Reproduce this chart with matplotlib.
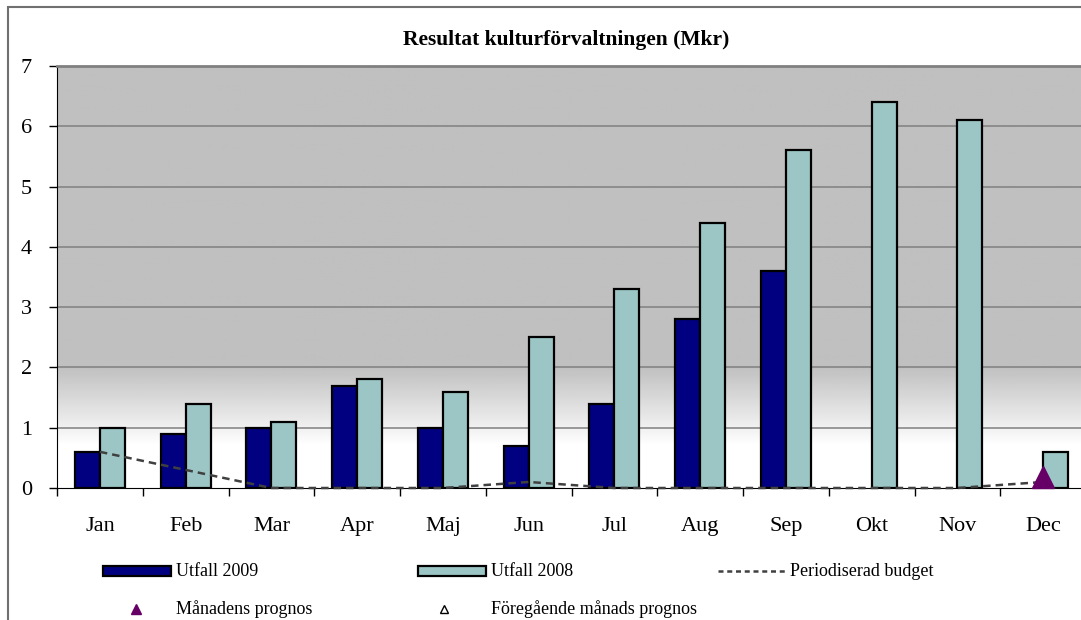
import numpy as np
import matplotlib
matplotlib.use("Agg")
import matplotlib.pyplot as plt
from matplotlib.patches import Rectangle
from matplotlib.lines import Line2D

months = ["Jan", "Feb", "Mar", "Apr", "Maj", "Jun", "Jul", "Aug", "Sep", "Okt", "Nov", "Dec"]
utfall_2009 = [0.6, 0.9, 1.0, 1.7, 1.0, 0.7, 1.4, 2.8, 3.6, np.nan, np.nan, np.nan]
utfall_2008 = [1.0, 1.4, 1.1, 1.8, 1.6, 2.5, 3.3, 4.4, 5.6, 6.4, 6.1, 0.6]
budget = [0.6, 0.3, 0.0, 0.0, 0.0, 0.1, 0.0, 0.0, 0.0, 0.0, 0.0, 0.1]
prognos_month = ["Dec"]
prognos_value = [0.18]
yticks = [0, 1, 2, 3, 4, 5, 6, 7]

W, H = 1081, 620
fig = plt.figure(figsize=(W / 100, H / 100), dpi=100)
plt.rcParams['font.family'] = ['Liberation Serif', 'DejaVu Serif']

# outer chart border (left/top visible)
fig.patches.append(Rectangle((8 / W, -0.1), 1.2, (1 - 7 / H) + 0.1, transform=fig.transFigure,
                             fill=False, edgecolor="#707070", linewidth=1.5))

left, right, top, bottom = 57, 1086, 66, 488
ax = fig.add_axes([left / W, 1 - bottom / H, (right - left) / W, (bottom - top) / H])

x = np.arange(len(months))
ax.set_xlim(-0.5, 11.5)
ax.set_ylim(0, 7)

# background gradient: gray above 2, fading to white toward ~0.7
yy = np.linspace(0, 7, 400)
g = np.clip((yy - 0.7) / (2.0 - 0.7), 0, 1)
shade = 1.0 - g * (1.0 - 0.753)
img = np.repeat(shade[:, None], 2, axis=1)
ax.imshow(img, extent=[-0.5, 11.5, 0, 7], origin="lower", cmap="gray", vmin=0, vmax=1,
          aspect="auto", zorder=0)

for t in yticks[1:]:
    ax.axhline(t, color="#808080", linewidth=1.1, zorder=1)

bw = 0.292
ax.bar(x - bw / 2, utfall_2009, width=bw, color="#000080", edgecolor="black", linewidth=1.6, zorder=3)
ax.bar(x + bw / 2, utfall_2008, width=bw, color="#9cc6c6", edgecolor="black", linewidth=1.6, zorder=3)
ax.plot(x, budget, color="#404040", linestyle=(0, (3, 2)), linewidth=1.8, zorder=4, clip_on=False)
px = [months.index(m) for m in prognos_month]
ax.plot(px, prognos_value, linestyle="none", marker="^", color="#660066", markersize=16, zorder=5,
        clip_on=False)

ax.spines["right"].set_visible(False)
ax.spines["top"].set_color("#808080")
ax.spines["top"].set_linewidth(2)
ax.spines["left"].set_color("black")
ax.spines["bottom"].set_color("black")

ax.set_yticks(yticks)
ax.set_yticklabels([str(t) for t in yticks], fontsize=16)
ax.tick_params(axis="y", direction="out", length=6, width=1, pad=12)

ax.set_xticks(np.arange(-0.5, 12, 1))
ax.set_xticklabels([])
ax.tick_params(axis="x", which="major", direction="out", length=6, width=1)
ax.set_xticks(x, minor=True)
ax.set_xticklabels(months, minor=True, fontsize=16)
ax.tick_params(axis="x", which="minor", length=0, pad=21)

fig.text(566 / W, 1 - 40 / H, "Resultat kulturförvaltningen (Mkr)", ha="center", va="center",
         fontsize=15.5, fontweight="bold")

# legend
fs = 13
r1 = 1 - 571 / H
r2 = 1 - 609 / H
ph = 10 / H
fig.patches.append(Rectangle((103 / W, r1 - ph / 2), 68 / W, ph, transform=fig.transFigure,
                             facecolor="#000080", edgecolor="black", linewidth=1.6))
fig.text(176 / W, r1, "Utfall 2009", va="center", ha="left", fontsize=fs)
fig.patches.append(Rectangle((418 / W, r1 - ph / 2), 68 / W, ph, transform=fig.transFigure,
                             facecolor="#9cc6c6", edgecolor="black", linewidth=1.6))
fig.text(491 / W, r1, "Utfall 2008", va="center", ha="left", fontsize=fs)
fig.lines.append(Line2D([718 / W, 785 / W], [r1, r1], transform=fig.transFigure, color="#404040",
                        linestyle=(0, (2, 1.5)), linewidth=1.8))
fig.text(790 / W, r1, "Periodiserad budget", va="center", ha="left", fontsize=fs)
fig.lines.append(Line2D([136 / W], [r2], transform=fig.transFigure, marker="^", color="#660066",
                        markersize=7, linestyle="none"))
fig.text(176 / W, r2, "Månadens prognos", va="center", ha="left", fontsize=fs)
fig.lines.append(Line2D([444 / W], [r2], transform=fig.transFigure, marker="^", markerfacecolor="white",
                        markeredgecolor="black", markersize=6, linestyle="none", markeredgewidth=1))
fig.text(491 / W, r2, "Föregående månads prognos", va="center", ha="left", fontsize=fs)

fig.savefig("out.png", dpi=100)
